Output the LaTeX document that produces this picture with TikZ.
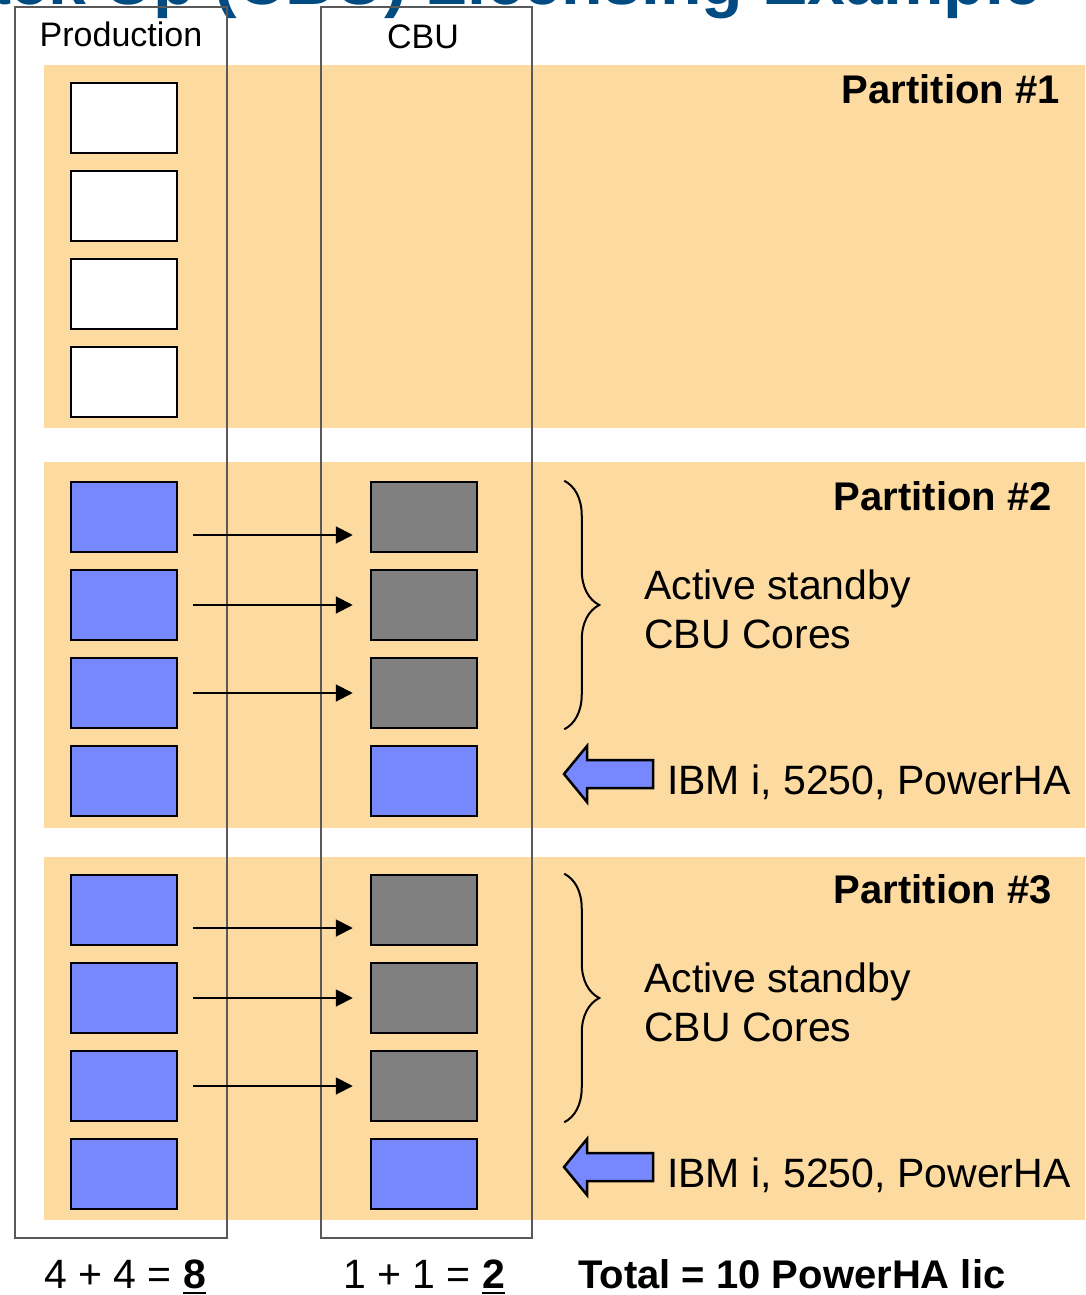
\documentclass[tikz,border=0pt]{standalone}
\usepackage{fontspec}
\setmainfont{Liberation Sans}
\usepackage{xcolor}
\usetikzlibrary{arrows.meta,decorations.pathreplacing}

\definecolor{bandorange}{RGB}{252,218,160}
\definecolor{coreblue}{RGB}{119,136,255}
\definecolor{coregray}{RGB}{128,128,128}
\definecolor{titleblue}{RGB}{0,75,130}
\definecolor{colgray}{RGB}{89,89,89}

% thick underline for the sums
\newcommand{\summark}[1]{\setbox0\hbox{#1}\rlap{\rule[-6pt]{\wd0}{2.5pt}}\box0}

\begin{document}
\begin{tikzpicture}[x=1pt, y=-1pt,
    core/.style={draw=black, line width=2.5pt, minimum width=106pt, minimum height=70pt, inner sep=0pt},
    band/.style={fill=bandorange, draw=none},
    column/.style={draw=colgray, line width=2.2pt},
    bigtext/.style={font=\fontsize{41}{48}\selectfont, inner sep=0pt},
    headtext/.style={font=\fontsize{40}{48}\selectfont\bfseries, inner sep=0pt},
    coltext/.style={font=\fontsize{34}{40}\selectfont, inner sep=0pt},
    move/.style={line width=2pt, -{Triangle[length=17pt,width=17pt]}},
    curly/.style={decorate, decoration={brace, amplitude=35pt, aspect=0.5}, line width=2pt},
    blockarrow/.style={draw=black, line width=2.5pt, fill=coreblue, line join=miter}]

    \clip (0,0) rectangle (1085,1295);
    \useasboundingbox (0,0) rectangle (1085,1295);

    % Title (cut off at the top)
    \node[anchor=base east, inner sep=0pt, text=titleblue, font=\fontsize{68}{80}\selectfont\bfseries] (title) at (1042,5) {Back Up (CBU) Licensing Example};

    % Partition bands
    \fill[band] (44,65) rectangle (1085,428);
    \fill[band] (44,462) rectangle (1085,828);
    \fill[band] (44,857) rectangle (1085,1220);

    % Production and CBU columns
    \draw[column] (15,7) rectangle (227,1238);
    \draw[column] (321,7) rectangle (532,1238);
    \node[coltext, anchor=base] (prodlabel) at (121,47) {Production};
    \node[coltext, anchor=base] (cbulabel) at (423,49) {CBU};

    % Partition #1
    \foreach \i in {1,...,4}
        \node[core, fill=white] (p1-\i) at (124,{118+88*(\i-1)}) {};
    \node[headtext, anchor=base east] (part1) at (1060,104) {Partition \#1};

    % Partitions #2 and #3
    \foreach \n/\ytop in {2/517, 3/910} {
        \foreach \i in {1,...,4}
            \node[core, fill=coreblue] (p\n-\i) at (124,{\ytop+88*(\i-1)}) {};
        \foreach \i in {1,2,3}
            \node[core, fill=coregray] (c\n-\i) at (424,{\ytop+88*(\i-1)}) {};
        \node[core, fill=coreblue] (c\n-4) at (424,{\ytop+264}) {};

        \draw[move] ([shift={(15,18)}]p\n-1.east) -- ([shift={(-17,18)}]c\n-1.west);
        \draw[move] ([xshift=15pt]p\n-2.east) -- ([xshift=-17pt]c\n-2.west);
        \draw[move] ([xshift=15pt]p\n-3.east) -- ([xshift=-17pt]c\n-3.west);

        \draw[curly] ([xshift=86pt]c\n-1.north east) -- ([xshift=86pt]c\n-3.south east);
        \node[headtext, anchor=base east] (part\n) at (1052,{\ytop-7}) {Partition \#\n};
        \node[bigtext, anchor=base west] (standby\n) at (644,{\ytop+82}) {Active standby};
        \node[bigtext, anchor=base west] (cores\n) at (644,{\ytop+131}) {CBU Cores};

        \draw[blockarrow, shift={(0,\ytop)}] (564,257) -- (587,229) -- (587,243) -- (653,243)
            -- (653,271) -- (587,271) -- (587,285) -- cycle;
        \node[bigtext, anchor=base west] (os\n) at (667,{\ytop+277}) {IBM i, 5250, PowerHA};
    }

    % Totals
    \node[bigtext, anchor=base] (prodsum) at (125,1288) {4 + 4 = \textbf{\summark{8}}};
    \node[bigtext, anchor=base] (cbusum) at (424,1288) {1 + 1 = \textbf{\summark{2}}};
    \node[headtext, anchor=base west] (total) at (578,1288) {Total = 10 PowerHA lic};
\end{tikzpicture}
\end{document}
